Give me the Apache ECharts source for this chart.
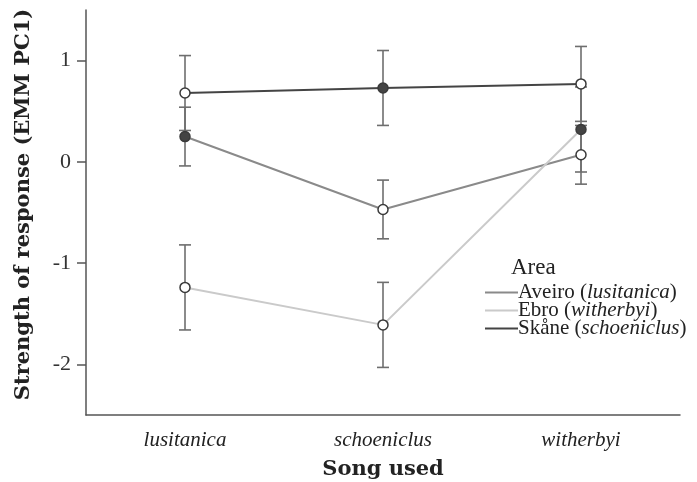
<!DOCTYPE html>
<html>
<head>
<meta charset="utf-8">
<script src="https://cdn.jsdelivr.net/npm/echarts@6/dist/echarts.min.js"></script>
<style>html,body{margin:0;padding:0;background:#fff;}#c{width:697px;height:482px;}</style>
</head>
<body>
<div id="c"></div>
<script>
var categories = ['lusitanica', 'schoeniclus', 'witherbyi'];
var areaNames = ['Aveiro', 'Ebro', 'Skåne'];
var areaSubspecies = ['lusitanica', 'witherbyi', 'schoeniclus'];
var aveiroValues = [0.25, -0.47, 0.07];
var aveiroErrors = [0.29, 0.29, 0.29];
var ebroValues = [-1.24, -1.61, 0.32];
var ebroErrors = [0.42, 0.42, 0.42];
var skaneValues = [0.68, 0.73, 0.77];
var skaneErrors = [0.37, 0.37, 0.37];
var homeSongIndex = [0, 2, 1];
var yTicks = [-2, -1, 0, 1];

var lineColors = ['#8a8a8a', '#cacaca', '#444444'];
var allValues = [aveiroValues, ebroValues, skaneValues];
var allErrors = [aveiroErrors, ebroErrors, skaneErrors];
var FONT = '"Liberation Serif", "DejaVu Serif", serif';
var BOLDFONT = '"DejaVu Serif", "Liberation Serif", serif';

var series = [];
var errData = [];
allValues.forEach(function (vals, s) {
  vals.forEach(function (v, i) {
    errData.push([i, v - allErrors[s][i], v + allErrors[s][i]]);
  });
});
series.push({
  type: 'custom',
  name: 'err',
  z: 1,
  silent: true,
  data: errData,
  encode: { x: 0, y: [1, 2] },
  renderItem: function (params, api) {
    var x = api.value(0);
    var lo = api.coord([x, api.value(1)]);
    var hi = api.coord([x, api.value(2)]);
    var hw = 6;
    var st = { stroke: '#6e6e6e', lineWidth: 1.6 };
    return {
      type: 'group',
      children: [
        { type: 'line', shape: { x1: lo[0], y1: lo[1], x2: hi[0], y2: hi[1] }, style: st },
        { type: 'line', shape: { x1: lo[0] - hw, y1: lo[1], x2: lo[0] + hw, y2: lo[1] }, style: st },
        { type: 'line', shape: { x1: hi[0] - hw, y1: hi[1], x2: hi[0] + hw, y2: hi[1] }, style: st }
      ]
    };
  }
});
allValues.forEach(function (vals, s) {
  series.push({
    type: 'line',
    name: areaNames[s],
    z: 3,
    symbol: 'circle',
    symbolSize: 10,
    lineStyle: { color: lineColors[s], width: 2 },
    itemStyle: { color: '#fff', borderColor: '#3a3a3a', borderWidth: 1.5 },
    emphasis: { disabled: true },
    data: vals.map(function (v, i) {
      return i === homeSongIndex[s]
        ? { value: v, itemStyle: { color: '#444', borderColor: '#3a3a3a' } }
        : { value: v };
    })
  });
});

var chart = echarts.init(document.getElementById('c'));
chart.setOption({
  animation: false,
  backgroundColor: '#fff',
  textStyle: { fontFamily: FONT },
  grid: { left: 86, right: 17, top: 10, bottom: 67, outerBoundsMode: 'none', containLabel: false },
  title: {
    text: 'Area',
    left: 506, top: 251,
    textStyle: { fontFamily: FONT, fontSize: 23, fontWeight: 'normal', color: '#222' }
  },
  legend: {
    orient: 'vertical',
    left: 480, top: 277,
    itemGap: -3,
    itemWidth: 33, itemHeight: 2,
    data: areaNames.map(function (n, s) {
      return { name: n, icon: 'rect', itemStyle: { color: lineColors[s], borderWidth: 0 } };
    }),
    formatter: function (name) {
      var idx = areaNames.indexOf(name);
      return name + ' ({i|' + areaSubspecies[idx] + '})';
    },
    textStyle: {
      fontFamily: FONT, fontSize: 21, color: '#222', padding: [0, 0, 0, -5],
      rich: { i: { fontFamily: FONT, fontStyle: 'italic', fontSize: 21, color: '#222' } }
    }
  },
  xAxis: {
    type: 'category',
    data: categories,
    boundaryGap: true,
    name: 'Song used',
    nameLocation: 'middle',
    nameGap: 44,
    nameTextStyle: { fontFamily: BOLDFONT, fontSize: 21, fontWeight: 'bold', color: '#222' },
    axisLine: { onZero: false, lineStyle: { color: '#555', width: 1.5 } },
    axisTick: { alignWithLabel: true, length: 9, lineStyle: { color: '#555', width: 1.5 } },
    axisLabel: { fontFamily: FONT, fontStyle: 'italic', fontSize: 21, color: '#222', margin: 15 },
    splitLine: { show: false }
  },
  yAxis: {
    type: 'value',
    min: -2.5, max: 1.5,
    name: 'Strength of response (EMM PC1)',
    nameLocation: 'middle',
    nameGap: 52,
    nameTextStyle: { fontFamily: BOLDFONT, fontSize: 21, fontWeight: 'bold', color: '#222', padding: [0, 0, 0, 16] },
    axisLine: { show: true, lineStyle: { color: '#555', width: 1.5 } },
    axisTick: { show: true, length: 9, customValues: yTicks, lineStyle: { color: '#555', width: 1.5 } },
    axisLabel: { fontFamily: FONT, fontSize: 22, color: '#333', margin: 15, customValues: yTicks },
    splitLine: { show: false }
  },
  series: series
});
</script>
</body>
</html>
